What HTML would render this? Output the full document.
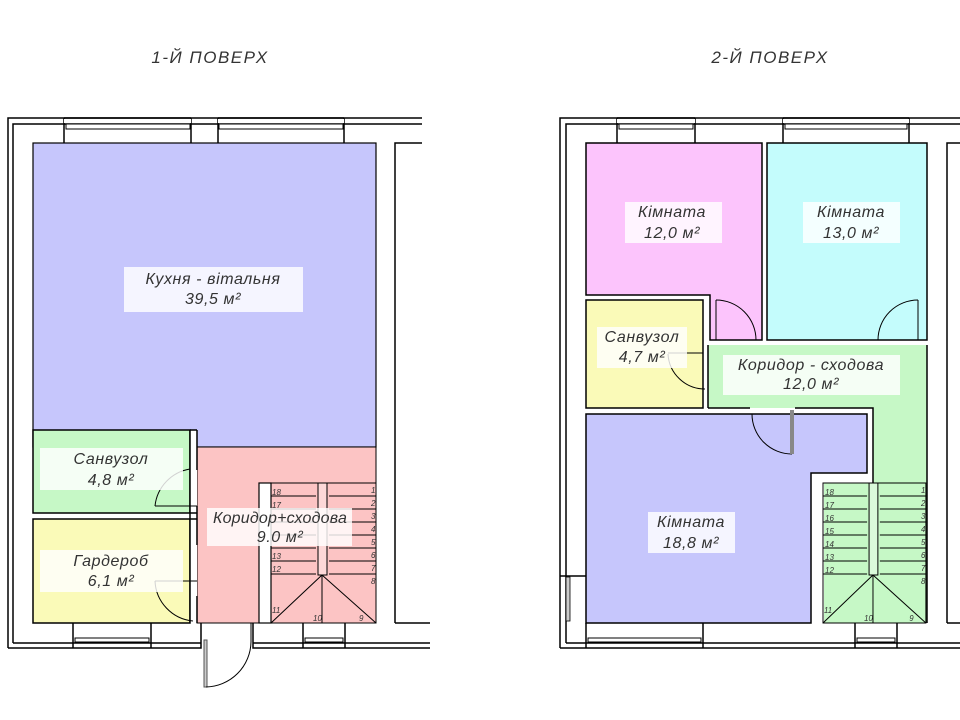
<!DOCTYPE html>
<html><head><meta charset="utf-8"><style>
html,body{margin:0;padding:0;background:#fff;width:960px;height:720px;overflow:hidden}
svg{display:block}
text{font-family:"Liberation Sans",sans-serif;font-style:italic;fill:#333;letter-spacing:0.6px}
.w{stroke:#000;stroke-width:1.5;fill:none}
.t{stroke:#000;stroke-width:1;fill:none}
.lb{fill:#fff;fill-opacity:.82}
.n{font-size:8px;letter-spacing:0}
</style></head><body>
<svg width="960" height="720" viewBox="0 0 960 720">
<defs>
<g id="stair">
  <rect x="0" y="0" width="105" height="140" class="t" fill="none"/>
  <rect x="47" y="0" width="9" height="92" fill="#fff" fill-opacity=".35" stroke="#000" stroke-width="1"/>
  <g stroke="#000" stroke-width="1">
    <line x1="0" y1="13" x2="45" y2="13"/><line x1="58" y1="13" x2="105" y2="13"/>
    <line x1="0" y1="26" x2="45" y2="26"/><line x1="58" y1="26" x2="105" y2="26"/>
    <line x1="0" y1="39" x2="45" y2="39"/><line x1="58" y1="39" x2="105" y2="39"/>
    <line x1="0" y1="52" x2="45" y2="52"/><line x1="58" y1="52" x2="105" y2="52"/>
    <line x1="0" y1="65" x2="45" y2="65"/><line x1="58" y1="65" x2="105" y2="65"/>
    <line x1="0" y1="78" x2="45" y2="78"/><line x1="58" y1="78" x2="105" y2="78"/>
    <line x1="0" y1="91" x2="45" y2="91"/><line x1="58" y1="91" x2="105" y2="91"/>
    <line x1="51" y1="92" x2="0" y2="140"/><line x1="51" y1="92" x2="105" y2="140"/>
    <line x1="51" y1="92" x2="51" y2="140"/>
  </g>
  <g>
    <text x="100" y="10" class="n">1</text><text x="100" y="23" class="n">2</text><text x="100" y="36" class="n">3</text>
    <text x="100" y="49" class="n">4</text><text x="100" y="62" class="n">5</text><text x="100" y="75" class="n">6</text>
    <text x="100" y="88" class="n">7</text><text x="100" y="101" class="n">8</text>
    <text x="88" y="138" class="n">9</text><text x="42" y="138" class="n">10</text><text x="1" y="130" class="n">11</text>
  </g>
</g>
</defs>

<text x="210" y="63" font-size="17" text-anchor="middle" style="letter-spacing:1.5px">1-Й ПОВЕРХ</text>
<text x="770" y="63" font-size="17" text-anchor="middle" style="letter-spacing:1.5px">2-Й ПОВЕРХ</text>

<!-- ===== LEFT PLAN ===== -->
<rect x="33" y="143" width="343" height="304" fill="#c6c6fc" stroke="#000" stroke-width="1.2"/>
<rect x="197" y="447" width="179" height="176" fill="#fcc4c4" stroke="#000" stroke-width="1"/>
<rect x="33" y="430" width="157" height="83" fill="#c6f8c6" stroke="#000" stroke-width="1.5"/>
<rect x="33" y="519" width="157" height="104" fill="#fafab8" stroke="#000" stroke-width="1.5"/>
<rect x="190" y="430" width="7" height="193" fill="#fff"/>
<line x1="190" y1="430" x2="190" y2="623" class="w"/>
<line x1="197" y1="430" x2="197" y2="470" class="w"/>
<line x1="197" y1="506" x2="197" y2="545" class="w"/>
<line x1="197" y1="596" x2="197" y2="623" class="w"/>
<line x1="190" y1="513" x2="197" y2="513" class="w"/>
<line x1="190" y1="519" x2="197" y2="519" class="w"/>
<line x1="190" y1="430" x2="197" y2="430" class="w"/>
<line x1="155" y1="506" x2="197" y2="506" class="t"/>
<path d="M155,506 A42,42 0 0 1 190,469" class="t"/>
<line x1="197" y1="581" x2="155" y2="581" class="t"/>
<path d="M155,581 A42,42 0 0 0 193,621" class="t"/>
<rect x="259" y="483" width="12" height="140" fill="#fff" stroke="#000" stroke-width="1.2"/>
<use href="#stair" x="271" y="483"/>
<text x="272" y="495" class="n">18</text><text x="272" y="508" class="n">17</text>
<text x="272" y="559" class="n">13</text><text x="272" y="572" class="n">12</text>

<path d="M8,648 L8,118 L422,118" class="w"/>
<path d="M13,643 L13,124 L422,124" class="w"/>
<line x1="64" y1="118" x2="64" y2="143" class="w"/><line x1="191" y1="118" x2="191" y2="143" class="w"/>
<line x1="218" y1="118" x2="218" y2="143" class="w"/><line x1="344" y1="118" x2="344" y2="143" class="w"/>
<rect x="66" y="124" width="124" height="5" fill="#fff" stroke="#000"/>
<rect x="219" y="124" width="124" height="5" fill="#fff" stroke="#000"/>
<rect x="64" y="119" width="127" height="4" fill="#fff"/><rect x="218" y="119" width="126" height="4" fill="#fff"/>
<line x1="64" y1="118" x2="191" y2="118" class="w"/><line x1="218" y1="118" x2="344" y2="118" class="w"/>
<path d="M395,623 L395,143 L422,143" class="w"/><line x1="395" y1="623" x2="430" y2="623" class="w"/>
<path d="M8,648 L201,648 L201,623" class="w"/><line x1="13" y1="643" x2="201" y2="643" class="w"/>
<path d="M253,623 L253,648 L430,648" class="w"/><line x1="253" y1="643" x2="430" y2="643" class="w"/>
<line x1="73" y1="623" x2="73" y2="648" class="w"/><line x1="151" y1="623" x2="151" y2="648" class="w"/>
<rect x="75" y="638" width="74" height="4" fill="#fff" stroke="#000"/>
<line x1="303" y1="623" x2="303" y2="648" class="w"/><line x1="345" y1="623" x2="345" y2="648" class="w"/>
<rect x="305" y="638" width="38" height="4" fill="#fff" stroke="#000"/>
<rect x="204" y="640" width="3" height="47" fill="#ccc" stroke="#555" stroke-width="1"/>
<path d="M206,687 A46,46 0 0 0 251,642" class="t"/>
<line x1="251" y1="642" x2="251" y2="623" class="t"/>

<rect x="124" y="267" width="179" height="45" class="lb"/>
<text x="213" y="284" font-size="16" text-anchor="middle">Кухня - вітальня</text>
<text x="213" y="304" font-size="16" text-anchor="middle">39,5 м²</text>
<rect x="40" y="448" width="143" height="42" class="lb"/>
<text x="111" y="464" font-size="16" text-anchor="middle">Санвузол</text>
<text x="111" y="485" font-size="16" text-anchor="middle">4,8 м²</text>
<rect x="40" y="550" width="143" height="42" class="lb"/>
<text x="111" y="566" font-size="16" text-anchor="middle">Гардероб</text>
<text x="111" y="586" font-size="16" text-anchor="middle">6,1 м²</text>
<rect x="207" y="508" width="145" height="38" class="lb"/>
<text x="280" y="523" font-size="16" text-anchor="middle" style="letter-spacing:0.2px">Коридор+сходова</text>
<text x="280" y="542" font-size="16" text-anchor="middle">9.0 м²</text>

<!-- ===== RIGHT PLAN ===== -->
<path d="M586,143 L762,143 L762,340 L710,340 L710,295 L586,295 Z" fill="#fcc4fc" stroke="#000" stroke-width="1.5"/>
<rect x="767" y="143" width="160" height="197" fill="#c4fcfc" stroke="#000" stroke-width="1.5"/>
<path d="M708,345 L927,345 L927,623 L824,623 L824,483 L873,483 L873,408 L708,408 Z" fill="#c6f8c6" stroke="none"/>
<line x1="927" y1="345" x2="927" y2="623" class="w"/>
<path d="M873,483 L873,408 L795,408" class="w"/>
<line x1="708" y1="408" x2="750" y2="408" class="w"/>
<rect x="586" y="300" width="117" height="108" fill="#fafab8" stroke="#000" stroke-width="1.5"/>
<line x1="708" y1="345" x2="708" y2="408" class="w"/>
<path d="M586,414 L867,414 L867,473 L811,473 L811,623 L586,623 Z" fill="#c6c6fc" stroke="#000" stroke-width="1.5"/>
<line x1="716" y1="300" x2="716" y2="340" class="t"/>
<path d="M716,300 A40,40 0 0 1 756,340" class="t"/>
<line x1="918" y1="300" x2="918" y2="340" class="t"/>
<path d="M918,300 A40,40 0 0 0 878,340" class="t"/>
<line x1="703" y1="353" x2="668" y2="353" class="t"/>
<path d="M668,354 A37,37 0 0 0 705,389" class="t"/>
<line x1="792" y1="414" x2="792" y2="454" class="t"/>
<path d="M792,454 A40,40 0 0 1 752,414" class="t"/>
<rect x="790" y="410" width="4" height="44" fill="#888"/>
<use href="#stair" x="823" y="483" transform="translate(823,483) scale(0.98,1) translate(-823,-483)"/>
<text x="825" y="495" class="n">18</text><text x="825" y="508" class="n">17</text><text x="825" y="521" class="n">16</text>
<text x="825" y="534" class="n">15</text><text x="825" y="547" class="n">14</text><text x="825" y="560" class="n">13</text><text x="825" y="573" class="n">12</text>

<path d="M560,648 L560,118 L960,118" class="w"/>
<path d="M566,643 L566,124 L960,124" class="w"/>
<line x1="617" y1="118" x2="617" y2="143" class="w"/><line x1="695" y1="118" x2="695" y2="143" class="w"/>
<line x1="783" y1="118" x2="783" y2="143" class="w"/><line x1="909" y1="118" x2="909" y2="143" class="w"/>
<rect x="617" y="119" width="78" height="4" fill="#fff"/><rect x="783" y="119" width="126" height="4" fill="#fff"/>
<line x1="617" y1="118" x2="695" y2="118" class="w"/><line x1="783" y1="118" x2="909" y2="118" class="w"/>
<rect x="619" y="124" width="74" height="5" fill="#fff" stroke="#000"/>
<rect x="785" y="124" width="122" height="5" fill="#fff" stroke="#000"/>
<path d="M947,623 L947,143 L960,143" class="w"/><line x1="947" y1="623" x2="960" y2="623" class="w"/>
<line x1="560" y1="648" x2="960" y2="648" class="w"/><line x1="566" y1="643" x2="960" y2="643" class="w"/>
<line x1="586" y1="623" x2="586" y2="648" class="w"/><line x1="703" y1="623" x2="703" y2="648" class="w"/>
<rect x="588" y="638" width="113" height="4" fill="#fff" stroke="#000"/>
<line x1="855" y1="623" x2="855" y2="648" class="w"/><line x1="897" y1="623" x2="897" y2="648" class="w"/>
<rect x="857" y="638" width="38" height="4" fill="#fff" stroke="#000"/>
<line x1="560" y1="576" x2="586" y2="576" class="w"/>
<rect x="566" y="577" width="4" height="44" fill="#ccc" stroke="#000" stroke-width=".8"/>

<rect x="625" y="202" width="97" height="41" class="lb"/>
<text x="672" y="217" font-size="16" text-anchor="middle">Кімната</text>
<text x="672" y="238" font-size="16" text-anchor="middle">12,0 м²</text>
<rect x="803" y="202" width="97" height="41" class="lb"/>
<text x="851" y="217" font-size="16" text-anchor="middle">Кімната</text>
<text x="851" y="238" font-size="16" text-anchor="middle">13,0 м²</text>
<rect x="597" y="327" width="90" height="41" class="lb"/>
<text x="642" y="342" font-size="16" text-anchor="middle">Санвузол</text>
<text x="642" y="362" font-size="16" text-anchor="middle">4,7 м²</text>
<rect x="723" y="355" width="177" height="40" class="lb"/>
<text x="811" y="370" font-size="16" text-anchor="middle">Коридор - сходова</text>
<text x="811" y="389" font-size="16" text-anchor="middle">12,0 м²</text>
<rect x="648" y="512" width="87" height="41" class="lb"/>
<text x="691" y="527" font-size="16" text-anchor="middle">Кімната</text>
<text x="691" y="548" font-size="16" text-anchor="middle">18,8 м²</text>
</svg>
</body></html>
